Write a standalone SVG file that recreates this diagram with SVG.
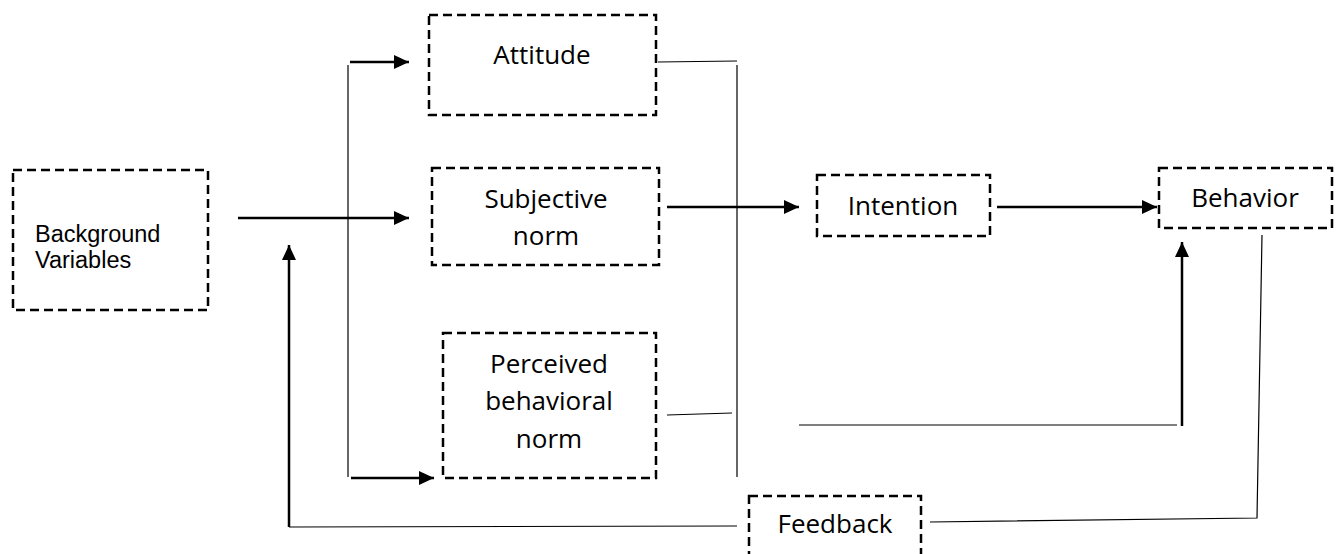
<svg xmlns="http://www.w3.org/2000/svg" width="1337" height="554" viewBox="0 0 1337 554">
<style>
.box{fill:none;stroke:#000;stroke-width:2.5;stroke-dasharray:9 5}
.lbl{font-family:"Open Sans","Noto Sans",sans-serif;font-size:26px;fill:#000;text-anchor:middle}
.arial{font-family:"Liberation Sans",Arial,sans-serif;font-size:23.5px;fill:#000}
.thin{fill:none;stroke:#000;stroke-width:1.2}
.thick{fill:none;stroke:#000;stroke-width:2.5;marker-end:url(#ah)}
.thickn{fill:none;stroke:#000;stroke-width:2.5}
</style>
<defs>
<marker id="ah" markerUnits="userSpaceOnUse" markerWidth="16" markerHeight="14" refX="15" refY="7" orient="auto">
<path d="M0,0 L15,7 L0,14 z" fill="#000"/>
</marker>
</defs>
<rect width="1337" height="554" fill="#fff"/>

<g id="background">
<rect class="box" x="13" y="170" width="195" height="140"/>
<text class="arial" x="35" y="242">Background</text>
<text class="arial" x="35" y="268">Variables</text>
</g>

<g id="attitude">
<rect class="box" x="429" y="15" width="227" height="100"/>
<text class="lbl" x="542" y="64">Attitude</text>
</g>

<g id="subjective">
<rect class="box" x="432" y="168" width="227" height="97"/>
<text class="lbl" x="546" y="208">Subjective</text>
<text class="lbl" x="546" y="245">norm</text>
</g>

<g id="perceived">
<rect class="box" x="443" y="333" width="213" height="145"/>
<text class="lbl" x="549" y="373">Perceived</text>
<text class="lbl" x="549" y="410">behavioral</text>
<text class="lbl" x="549" y="448">norm</text>
</g>

<g id="intention">
<rect class="box" x="817" y="175" width="173" height="61"/>
<text class="lbl" x="903" y="215">Intention</text>
</g>

<g id="behavior">
<rect class="box" x="1159" y="168" width="173" height="60"/>
<text class="lbl" x="1245" y="207">Behavior</text>
</g>

<g id="feedback">
<rect class="box" x="749" y="496" width="172" height="70"/>
<text class="lbl" x="835" y="533">Feedback</text>
</g>

<g id="connectors">
<!-- background to subjective -->
<line class="thick" x1="238" y1="218" x2="409" y2="218"/>
<!-- branch bracket -->
<line class="thin" x1="348" y1="65" x2="348" y2="477"/>
<line class="thick" x1="350" y1="62" x2="409" y2="62"/>
<line class="thick" x1="351" y1="478" x2="434" y2="478"/>
<!-- right bracket -->
<line class="thin" x1="658" y1="62" x2="737" y2="61"/>
<line class="thin" x1="737" y1="65" x2="737" y2="477"/>
<line class="thin" x1="667" y1="415" x2="732" y2="413"/>
<!-- subjective to intention -->
<line class="thick" x1="667" y1="207" x2="799" y2="207"/>
<!-- intention to behavior -->
<line class="thick" x1="997" y1="207" x2="1157" y2="207"/>
<!-- PBC to behavior -->
<line class="thin" x1="799" y1="425" x2="1177" y2="425"/>
<line class="thick" x1="1182" y1="426" x2="1182" y2="242"/>
<!-- behavior to feedback -->
<polyline class="thin" points="1262,235 1257,518 930,522"/>
<!-- feedback to background -->
<line class="thin" x1="737" y1="526" x2="289" y2="527"/>
<line class="thick" x1="289" y1="527" x2="289" y2="245"/>
</g>
</svg>
